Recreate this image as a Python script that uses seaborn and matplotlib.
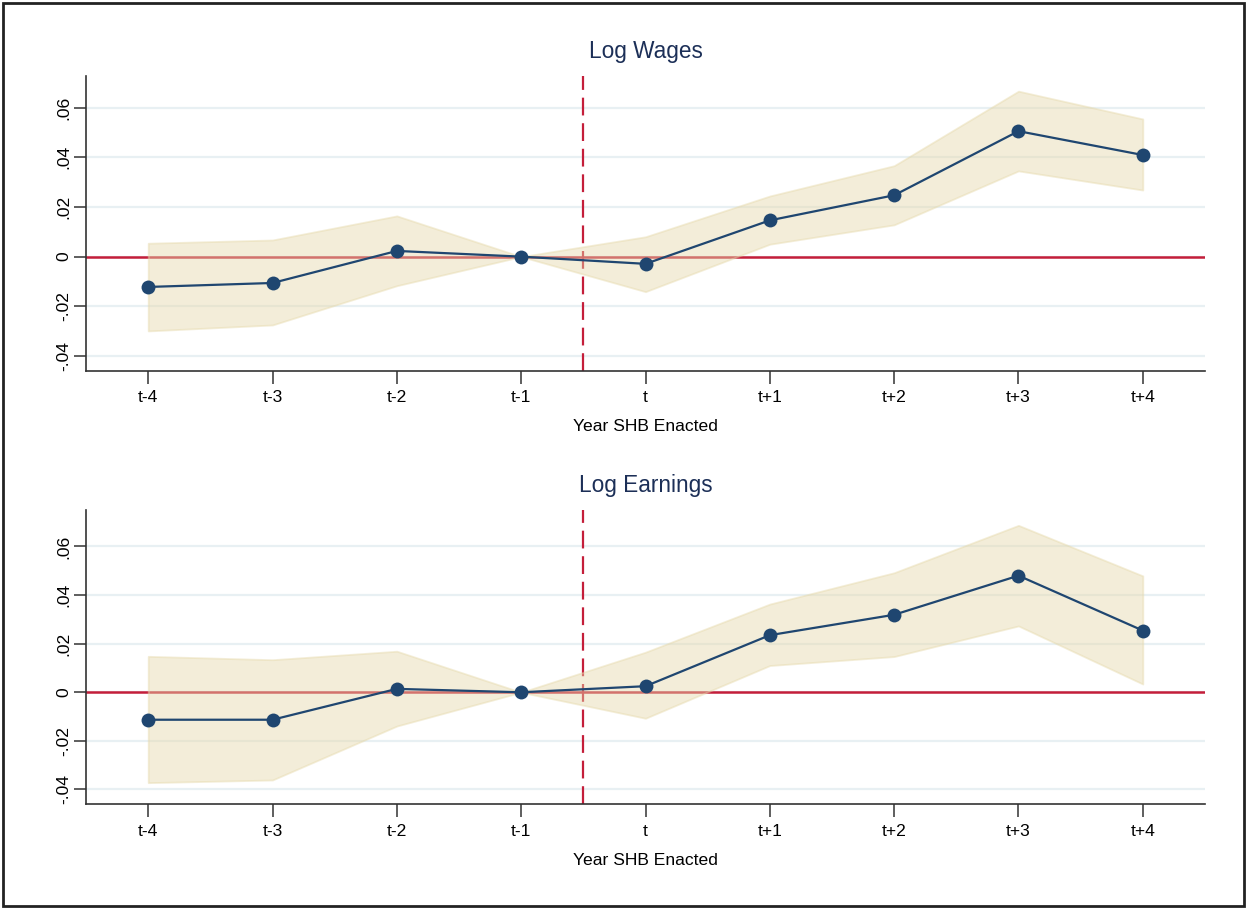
import matplotlib
matplotlib.use("Agg")
import numpy as np
import pandas as pd
import seaborn as sns
import matplotlib.pyplot as plt
from matplotlib.patches import Rectangle

# Event-time periods relative to enactment
periods = ["t-4", "t-3", "t-2", "t-1", "t", "t+1", "t+2", "t+3", "t+4"]

# Log wages: point estimates and 95% confidence bounds
wages_coef = [-0.0122, -0.0106, 0.0023, 0.0, -0.0029, 0.0146, 0.0247, 0.0505, 0.0409]
wages_lo = [-0.0299, -0.0275, -0.0117, 0.0, -0.0141, 0.0050, 0.0128, 0.0345, 0.0268]
wages_hi = [0.0054, 0.0067, 0.0164, 0.0, 0.0080, 0.0244, 0.0366, 0.0666, 0.0554]

# Log earnings: point estimates and 95% confidence bounds
earn_coef = [-0.0113, -0.0113, 0.0014, 0.0, 0.0025, 0.0235, 0.0319, 0.0480, 0.0254]
earn_lo = [-0.0372, -0.0361, -0.0139, 0.0, -0.0107, 0.0110, 0.0147, 0.0273, 0.0034]
earn_hi = [0.0148, 0.0134, 0.0169, 0.0, 0.0165, 0.0363, 0.0492, 0.0687, 0.0479]

y_ticks = [-0.04, -0.02, 0.0, 0.02, 0.04, 0.06]
y_tick_labels = ["-.04", "-.02", "0", ".02", ".04", ".06"]

NAVY = "#1f4670"
RED = "#c41e3a"
SAND = "#e6d9ab"
GRID = "#e8f0f3"
TITLE = "#1c2f57"

sns.set_style("white")
plt.rcParams["font.family"] = ["Liberation Sans", "DejaVu Sans"]

fig = plt.figure(figsize=(12.47, 9.09), dpi=100)
fig.patch.set_facecolor("white")

ax_top = fig.add_axes([0.069, 0.5922, 0.8973, 0.3242])
ax_bot = fig.add_axes([0.069, 0.1152, 0.8973, 0.3237])


def draw_panel(ax, title, coef, lo, hi, ylim):
    x = np.arange(len(periods))
    df = pd.DataFrame({"x": x, "coef": coef, "lo": lo, "hi": hi})

    ax.set_axisbelow(True)
    ax.yaxis.grid(True, color=GRID, lw=1.6)
    ax.xaxis.grid(False)

    ax.axhline(0, color=RED, lw=1.8, zorder=1)
    ax.axvline(3.5, color=RED, lw=1.6, ls=(0, (8, 3.5)), zorder=1)

    ax.fill_between(df["x"], df["lo"], df["hi"], facecolor=SAND, alpha=0.45,
                    edgecolor=SAND, lw=1.3, zorder=2)

    sns.lineplot(data=df, x="x", y="coef", ax=ax, color=NAVY, lw=1.6,
                 marker="o", markersize=10, markeredgewidth=0, zorder=3)

    ax.set_xlim(-0.5, 8.5)
    ax.set_ylim(*ylim)
    ax.set_xticks(x)
    ax.set_xticklabels(periods, fontsize=12.6)
    ax.set_yticks(y_ticks)
    ax.set_yticklabels(y_tick_labels, rotation=90, va="center", fontsize=12.6)

    for side in ["top", "right"]:
        ax.spines[side].set_visible(False)
    for side in ["left", "bottom"]:
        ax.spines[side].set_color("#333333")
        ax.spines[side].set_linewidth(1.2)

    ax.tick_params(axis="both", which="major", bottom=True, left=True,
                   direction="out", length=9, width=1.1,
                   color="#333333", labelcolor="black")
    ax.tick_params(axis="x", pad=5)
    ax.tick_params(axis="y", pad=1.5)

    ax.set_xlabel("Year SHB Enacted", fontsize=12.6, color="black", labelpad=10)
    ax.set_ylabel("")
    ax.set_title(title, fontsize=16.3, color=TITLE, pad=13)
    ax.patch.set_facecolor("white")


draw_panel(ax_top, "Log Wages", wages_coef, wages_lo, wages_hi, (-0.0459, 0.0727))
draw_panel(ax_bot, "Log Earnings", earn_coef, earn_lo, earn_hi, (-0.0461, 0.0750))

# Outer frame around the whole figure
fig.patches.append(Rectangle((0.0024, 0.0033), 0.9952, 0.9934, transform=fig.transFigure,
                             fill=False, edgecolor="#222222", lw=2.0, zorder=10))

fig.savefig("out.png", dpi=100, facecolor="white")
